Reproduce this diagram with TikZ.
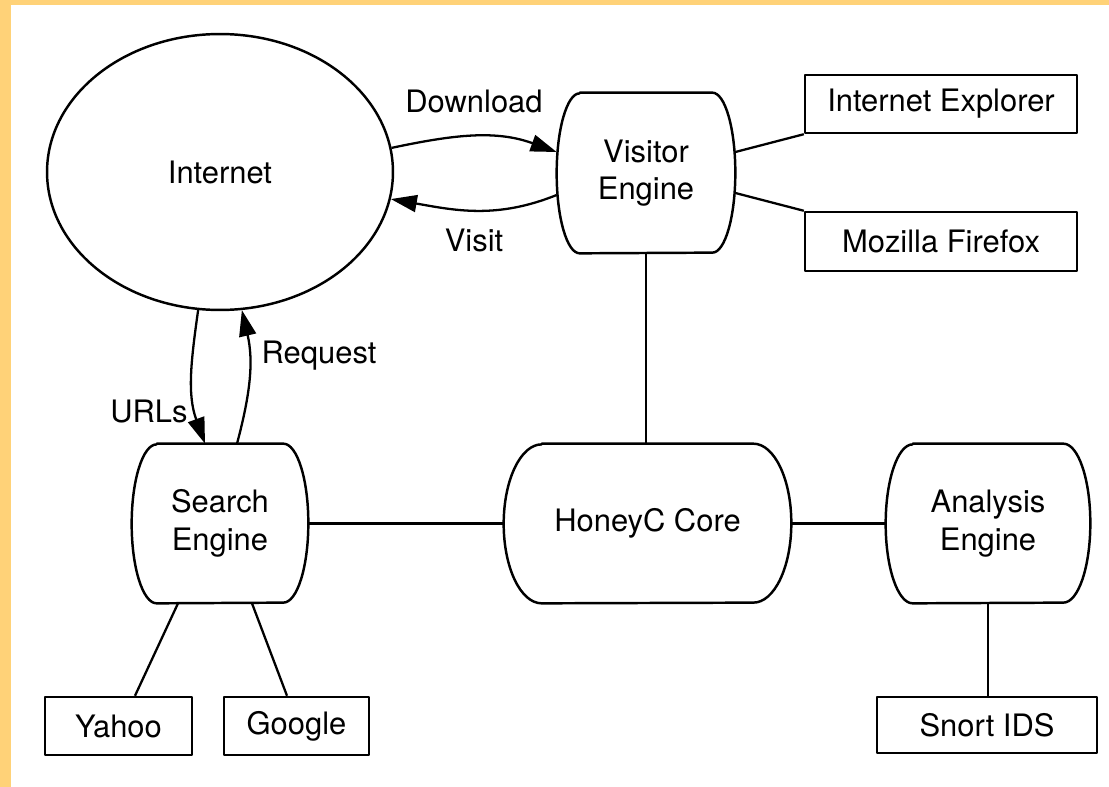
\documentclass[tikz,border=0pt]{standalone}
\usepackage{fontspec}
\setmainfont{TeX Gyre Heros}
\usetikzlibrary{arrows.meta,shapes.geometric}

\definecolor{pagestrip}{RGB}{255,210,120}

% Engine outline: straight top and bottom, half-elliptic sides.
% #1 = node name, #2 = horizontal corner inset (picture units), #3 = half height (cm)
\newcommand\barrelshape[3]{%
  \draw[outline]
    ([xshift=#2*0.02cm]#1.north west) -- ([xshift=-#2*0.02cm]#1.north east)
    arc[start angle=90, end angle=-90, x radius=#2*0.02cm, y radius=#3]
    -- ([xshift=#2*0.02cm]#1.south west)
    arc[start angle=270, end angle=90, x radius=#2*0.02cm, y radius=#3]
    -- cycle;}

\tikzset{
  outline/.style={line width=1.4pt, line join=round},
  txt/.style={font=\fontsize{17.6}{21.5}\selectfont, align=center},
  engine/.style={txt, draw=none, inner sep=0pt},
  tool/.style={txt, draw, outline, fill=white, inner sep=0pt},
  link/.style={line width=1.3pt},
  flow/.style={line width=1.3pt, -{Triangle[length=0.52cm, width=0.34cm]}},
  lbl/.style={txt, anchor=base, inner sep=0pt},
}

\begin{document}
\begin{tikzpicture}[x=0.02cm, y=0.02cm]
  % page background with its coloured edges
  \fill[pagestrip] (0,0) rectangle (1109,-787);
  \fill[white] (11,-5) rectangle (1109,-787);
  \useasboundingbox (0,0) rectangle (1109,-787);

  % main nodes
  \node[txt, ellipse, draw, outline, minimum width=6.92cm, minimum height=5.52cm, inner sep=0pt]
    (internet) at (220,-172) {Internet};
  \node[engine, minimum width=3.56cm, minimum height=3.2cm]  (visitor)  at (646,-173)   {Visitor\\Engine};
  \node[engine, minimum width=3.52cm, minimum height=3.18cm] (search)   at (220,-523.5) {Search\\Engine};
  \node[engine, minimum width=5.74cm, minimum height=3.18cm] (core)     at (647.5,-523.5) {HoneyC Core};
  \node[engine, minimum width=4.08cm, minimum height=3.18cm] (analysis) at (988,-523.5) {Analysis\\Engine};

  \barrelshape{visitor}{23}{1.6cm}
  \barrelshape{search}{25}{1.59cm}
  \barrelshape{core}{38}{1.59cm}
  \barrelshape{analysis}{27}{1.59cm}

  % plug-in boxes
  \node[tool, minimum width=5.44cm, minimum height=1.16cm] (ie)      at (941,-104)   {Internet Explorer};
  \node[tool, minimum width=5.44cm, minimum height=1.18cm] (firefox) at (941,-241.5) {Mozilla Firefox};
  \node[tool, minimum width=4.4cm,  minimum height=1.12cm] (snort)   at (987,-725)   {Snort IDS};
  \node[tool, minimum width=2.94cm, minimum height=1.16cm] (yahoo)   at (118.5,-726) {Yahoo};
  \node[tool, minimum width=2.9cm,  minimum height=1.16cm] (google)  at (296.5,-726) {Google};

  % plain links
  \draw[link] ([yshift=0.42cm]visitor.east) -- (ie.south west);
  \draw[link] ([yshift=-0.4cm]visitor.east) -- (firefox.north west);
  \draw[link] (visitor.south) -- (visitor.south |- core.north);
  \draw[link] (search.east) -- (core.west);
  \draw[link] (core.east) -- (analysis.west);
  \draw[link] (analysis.south) -- (analysis.south |- snort.north);
  \draw[link] ([xshift=-0.84cm]search.south) -- ([xshift=0.33cm]yahoo.north);
  \draw[link] ([xshift=0.64cm]search.south) -- ([xshift=-0.19cm]google.north);

  % data flows
  \draw[flow] (internet.8.6) to[out=12, in=160] ([yshift=0.42cm]visitor.west);
  \draw[flow] ([yshift=-0.44cm]visitor.west) to[out=202, in=-10] (internet.-9.2);
  \draw[flow] (internet.-99) to[out=-98, in=110] ([xshift=-0.3cm]search.north);
  \draw[flow] ([xshift=0.34cm]search.north) to[out=75, in=-77] (internet.-81);

  % flow labels
  \node[lbl] (ldownload) at (474,-113) {Download};
  \node[lbl] (lvisit)    at (474,-252) {Visit};
  \node[lbl] (lrequest)  at (319,-363) {Request};
  \node[lbl] (lurls)     at (149,-422) {URLs};
\end{tikzpicture}
\end{document}
